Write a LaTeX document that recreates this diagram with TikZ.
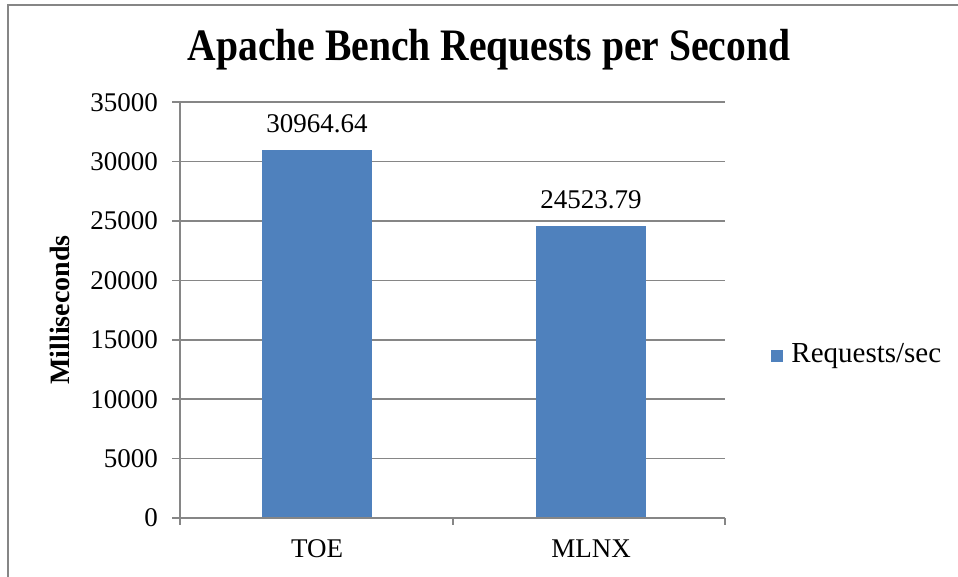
\documentclass[tikz,border=0pt]{standalone}
\usepackage{fontspec}
\setmainfont{Liberation Serif}
\usepackage{xcolor}
\definecolor{b}{RGB}{79, 129, 189}
\definecolor{g}{RGB}{134, 134, 134}
\usetikzlibrary{positioning}

\begin{document}
\begin{tikzpicture}[x=1pt, y=-1pt,
    ticklabel/.style={font=\fontsize{27}{27}\selectfont, inner sep=0pt},
    barbox/.style={fill=b, draw=none, minimum width=110pt, inner sep=0pt, anchor=south},
    gridline/.style={g, line width=1.6pt}]
        % Fix the page to the reference size
        \useasboundingbox (0,0) rectangle (958,577);

        % Outer frame (only top and left edges show)
        \draw[g, line width=2pt] (8,600) -- (8,5) -- (970,5);

        % Pixels per 5000 of value
        \pgfmathsetmacro{\ys}{59.4}

        % Gridlines and y tick labels
        \foreach \i/\v in {0/0,1/5000,2/10000,3/15000,4/20000,5/25000,6/30000,7/35000} {
            \draw[gridline] (172,{518-\i*\ys}) -- (725,{518-\i*\ys});
            \node[ticklabel, anchor=east] (y\i) at (158,{518-\i*\ys}) {\v};
        }

        % Bars (heights in units of 5000)
        \node[barbox, minimum height={6.192928*\ys}] (toe) at (317,518) {};
        \node[barbox, minimum height={4.904758*\ys}] (mlnx) at (591,518) {};

        % Axes and ticks
        \draw[gridline] (180,101) -- (180,525);
        \draw[gridline] (172,518) -- (725,518);
        \draw[gridline] (453,518) -- (453,525);
        \draw[gridline] (725,518) -- (725,525);

        % Value labels
        \node[ticklabel, above=17pt of toe.north] (toeval) {30964.64};
        \node[ticklabel, above=17pt of mlnx.north] (mlnxval) {24523.79};

        % Category labels
        \node[ticklabel] (toecat) at (317,549) {TOE};
        \node[ticklabel] (mlnxcat) at (591,549) {MLNX};

        % Title and axis title
        \node[font=\bfseries\fontsize{45}{45}\selectfont, xscale=0.88] (title) at (489,50) {Apache Bench Requests per Second};
        \node[font=\bfseries\fontsize{28}{28}\selectfont, rotate=90] (ytitle) at (60,310) {Milliseconds};

        % Legend
        \node[fill=b, minimum size=12pt, inner sep=0pt] (legkey) at (777,356) {};
        \node[font=\fontsize{29}{29}\selectfont, inner sep=0pt, right=8pt of legkey] (legtext) {Requests/sec};
    \end{tikzpicture}
\end{document}
